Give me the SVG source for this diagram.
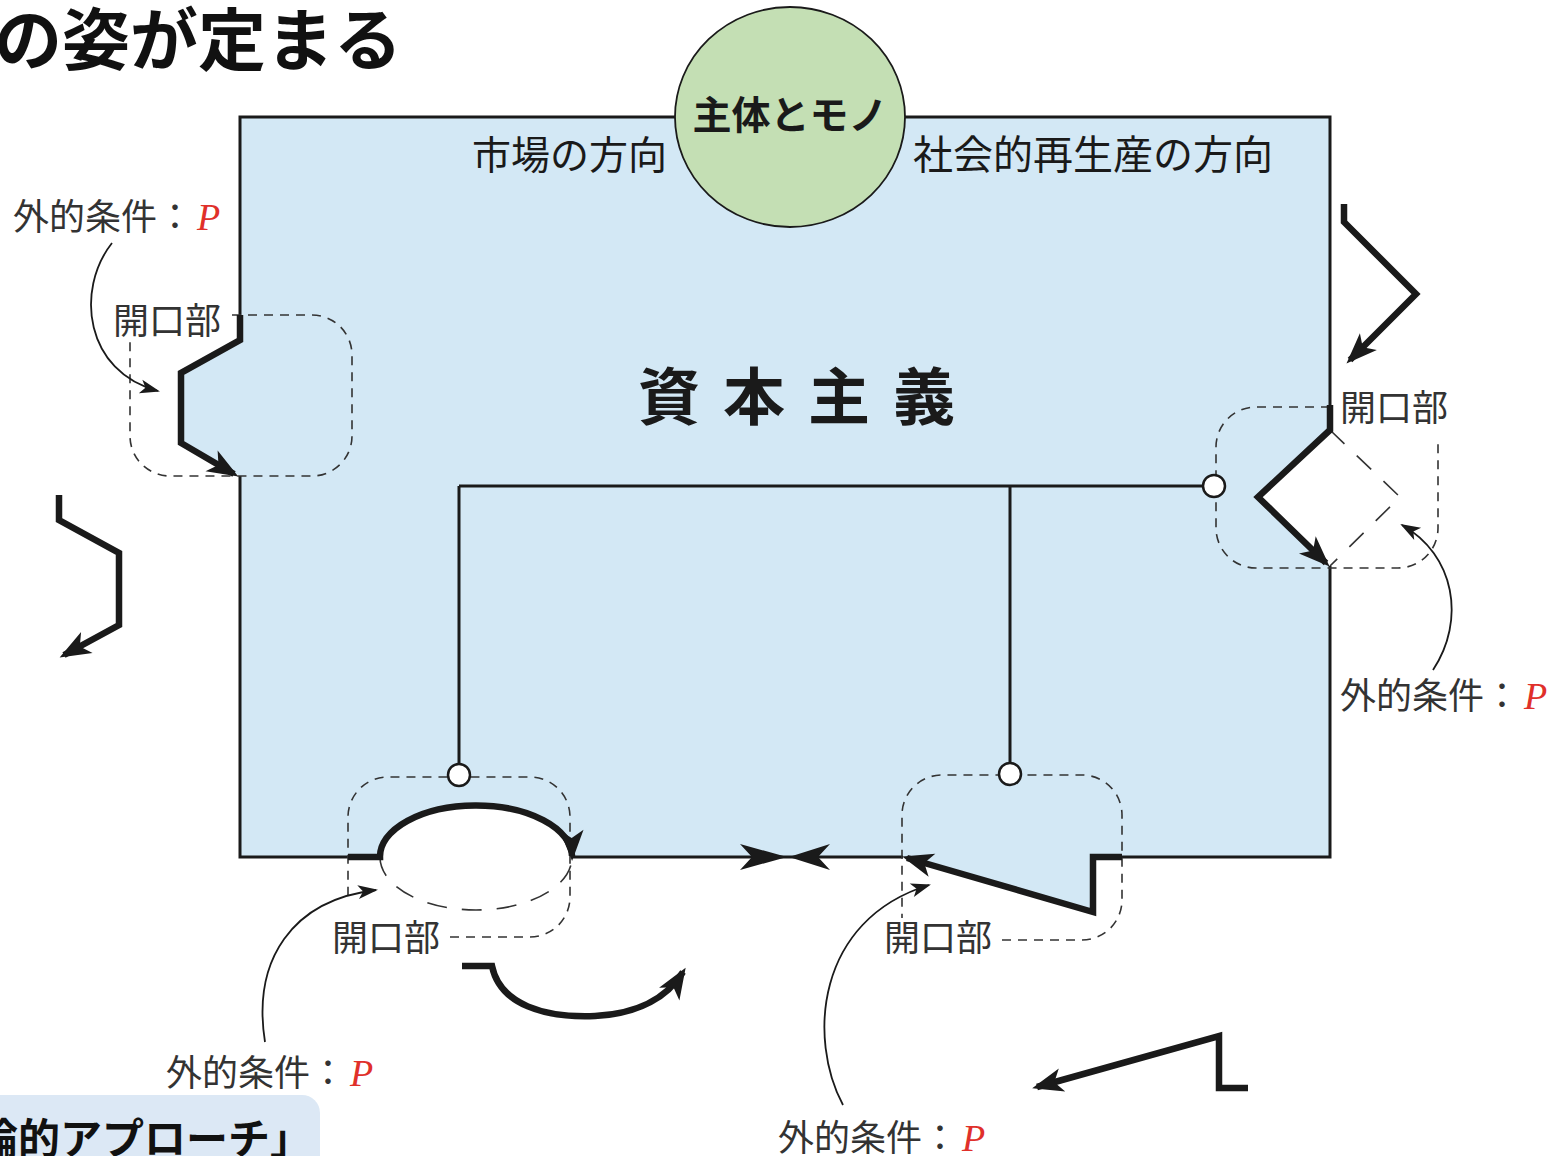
<svg xmlns="http://www.w3.org/2000/svg" width="1565" height="1156" viewBox="0 0 1565 1156">
<style>
.jp{font-family:"Noto Sans CJK JP","Noto Sans",sans-serif}
.lbl{font-family:"Noto Sans CJK JP","Noto Sans",sans-serif;font-size:36px;fill:#333}
.p{font-family:"Liberation Serif",serif;font-style:italic;fill:#e0302a;font-size:38px}
.thin{fill:none;stroke:#1a1a1a;stroke-width:3}
.thick{fill:none;stroke:#1a1a1a;stroke-width:6.5;stroke-linejoin:miter}
.dash{fill:none;stroke:#333;stroke-width:1.6;stroke-dasharray:9 7}
.cur{fill:none;stroke:#1a1a1a;stroke-width:1.8}
.dot{fill:#fff;stroke:#1a1a1a;stroke-width:2.5}
</style>
<defs>
<marker id="ah" viewBox="-30 -14 36 28" refX="0" refY="0" markerWidth="36" markerHeight="28" markerUnits="userSpaceOnUse" orient="auto">
<path d="M5,0 L-26,-12 L-18,0 L-26,12 Z" fill="#1a1a1a"/>
</marker>
<marker id="as" viewBox="-20 -8 24 16" refX="0" refY="0" markerWidth="24" markerHeight="16" markerUnits="userSpaceOnUse" orient="auto">
<path d="M2,0 L-18,-7 L-13,0 L-18,7 Z" fill="#1a1a1a"/>
</marker>
</defs>

<rect width="1565" height="1156" fill="#fff"/>

<g id="title">
<text class="jp" x="402" y="65" font-size="68" font-weight="700" text-anchor="end" fill="#111">の姿が定まる</text>
</g>

<g id="capitalism">
<path d="M240,117 H1330 V430 L1258,497 L1330,566 V857 H1093 V912 L903,857 H572 A96,51 0 0 0 380,857 H240 V476 L181,443 V373 L240,340 Z" fill="#d3e8f5"/>
<path class="thin" d="M240,315 V117 H1330 V405"/>
<path class="thin" d="M1330,566 V857 H1122"/>
<path class="thin" d="M903,857 H572"/>
<path class="thin" d="M348,857 H240 V476"/>
<text class="jp" x="638" y="420" font-size="62" font-weight="700" letter-spacing="23" fill="#1a1a1a">資本主義</text>
<text class="jp" x="472" y="169" font-size="39" fill="#1a1a1a">市場の方向</text>
<text class="jp" x="913" y="169" font-size="40" fill="#1a1a1a">社会的再生産の方向</text>
</g>

<g id="subject">
<ellipse cx="790" cy="117" rx="115" ry="110" fill="#c4dfb4" stroke="#1a1a1a" stroke-width="1.8"/>
<text class="jp" x="790" y="129" font-size="39" font-weight="700" text-anchor="middle" fill="#1a1a1a">主体とモノ</text>
</g>

<g id="opening-left">
<path class="dash" d="M232,315 H312 A40,40 0 0 1 352,355 V436 A40,40 0 0 1 312,476 H170 A40,40 0 0 1 130,436 V340"/>
<text class="lbl" x="113" y="334">開口部</text>
<text class="lbl" x="13" y="230">外的条件：<tspan class="p" dx="4">P</tspan></text>
</g>

<g id="opening-right">
<path class="dash" d="M1330,407 H1256 A40,40 0 0 0 1216,447 V528 A40,40 0 0 0 1256,568 H1398 A40,40 0 0 0 1438,528 V440"/>
<path fill="none" stroke="#333" stroke-width="1.6" stroke-dasharray="20 17" d="M1330,430 L1400,497 L1330,566"/>
<text class="lbl" x="1340" y="421">開口部</text>
<text class="lbl" x="1340" y="709">外的条件：<tspan class="p" dx="4">P</tspan></text>
</g>

<g id="opening-bottom-left">
<path class="dash" d="M450,937 H530 A40,40 0 0 0 570,897 V817 A40,40 0 0 0 530,777 H388 A40,40 0 0 0 348,817 V900"/>
<path fill="none" stroke="#333" stroke-width="1.6" stroke-dasharray="20 15" d="M380,857 A96,53 0 0 0 572,857"/>
<text class="lbl" x="332" y="951">開口部</text>
<text class="lbl" x="166" y="1086">外的条件：<tspan class="p" dx="4">P</tspan></text>
</g>

<g id="opening-bottom-right">
<path class="dash" d="M1002,940 H1082 A40,40 0 0 0 1122,900 V815 A40,40 0 0 0 1082,775 H942 A40,40 0 0 0 902,815 V918"/>
<text class="lbl" x="884" y="951">開口部</text>
<text class="lbl" x="778" y="1151">外的条件：<tspan class="p" dx="4">P</tspan></text>
</g>

<g id="approach-box">
<rect x="-30" y="1095" width="350" height="100" rx="18" fill="#dce8f5"/>
<text class="jp" x="312" y="1154" font-size="42" font-weight="700" text-anchor="end" fill="#111">論的アプローチ」</text>
</g>

<g id="connectors">
<line class="thin" x1="459" y1="486" x2="1203" y2="486" stroke-width="2.6"/>
<line class="thin" x1="459" y1="486" x2="459" y2="764" stroke-width="2.6"/>
<line class="thin" x1="1010" y1="486" x2="1010" y2="763" stroke-width="2.6"/>
<circle class="dot" cx="1214" cy="486" r="11"/>
<circle class="dot" cx="459" cy="775" r="11"/>
<circle class="dot" cx="1010" cy="774" r="11"/>

<path class="thick" d="M240,315 V340 L181,373 V443 L234,474" marker-end="url(#ah)"/>
<path class="thick" d="M1330,405 V430 L1258,497 L1326,563" marker-end="url(#ah)"/>
<path class="thick" d="M348,857 H380 A96,51 0 0 1 572,856" marker-end="url(#ah)"/>
<path class="thick" d="M1122,857 H1093 V912 L907,858" marker-end="url(#ah)"/>

<path class="thick" d="M59,495 V520 L119,553 V625 L64,655" marker-end="url(#ah)"/>
<path class="thick" d="M1344,204 V222 L1416,294 L1350,360" marker-end="url(#ah)"/>
<path class="thick" d="M462,966 H492 C500,1005 545,1018 595,1016 C640,1014 668,996 683,972" marker-end="url(#ah)"/>
<path class="thick" d="M1248,1088 H1219 V1036 L1037,1087" marker-end="url(#ah)"/>

<path d="M787,857 L740,844 L752,857 L740,870 Z" fill="#1a1a1a"/>
<path d="M789,857 L830,844 L818,857 L830,870 Z" fill="#1a1a1a"/>

<path class="cur" d="M112,243 C75,290 85,372 158,391" marker-end="url(#as)"/>
<path class="cur" d="M1433,670 C1466,620 1455,555 1402,525" marker-end="url(#as)"/>
<path class="cur" d="M265,1042 C252,960 292,900 376,890" marker-end="url(#as)"/>
<path class="cur" d="M843,1105 C808,1040 815,920 929,885" marker-end="url(#as)"/>
</g>
</svg>
